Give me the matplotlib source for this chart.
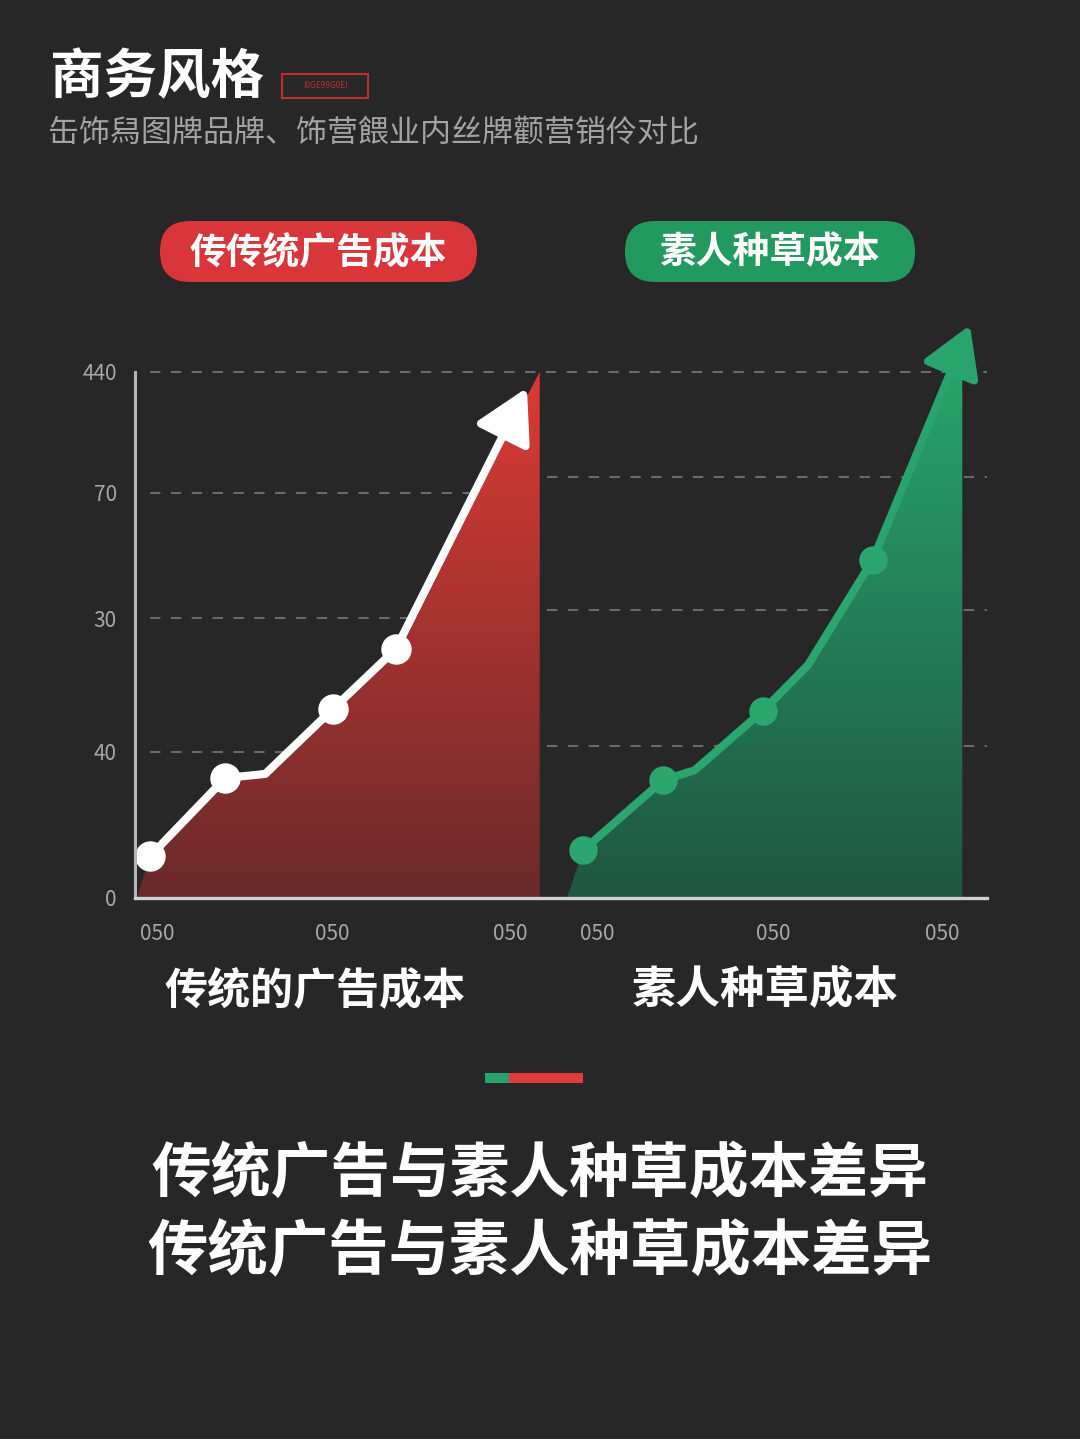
import numpy as np
import matplotlib
matplotlib.use("Agg")
import matplotlib.pyplot as plt
from matplotlib.patches import Polygon, FancyBboxPatch, Rectangle
from matplotlib.colors import LinearSegmentedColormap

plt.rcParams['font.family'] = ['Noto Sans CJK SC', 'DejaVu Sans']

BG = '#272727'

# chart data (x 0..100 across both panels, y 0..100 scale)
ytick_pos = [0, 27.8, 53.2, 77.0, 100]
ytick_labels = ["0", "40", "30", "70", "440"]
xtick_pos = [2.6, 23.2, 44.0, 54.2, 74.9, 94.8]
xtick_labels = ["050", "050", "050", "050", "050", "050"]

grid_left = [77.0, 53.2, 27.8]
grid_right = [80.0, 54.8, 28.9]

red_x = [1.8, 10.6, 15.3, 23.2, 30.6]
red_y = [8.0, 22.8, 23.6, 35.9, 47.3]
red_mark = [True, True, False, True, True]
red_tip = (46.0, 97.0)
red_fill_x = [0.2] + red_x + [47.5, 47.5]
red_fill_y = [0.0] + red_y + [100.0, 0.0]

green_x = [52.6, 62.0, 65.7, 73.7, 79.0, 86.6]
green_y = [9.1, 22.4, 24.3, 35.6, 44.3, 64.3]
green_mark = [True, True, False, True, False, True]
green_tip = (98.0, 108.9)
green_fill_x = [50.7] + green_x + [96.4, 97.1, 97.1]
green_fill_y = [0.0] + green_y + [101.0, 101.0, 0.0]

title = "商务风格"
tag = "I0GE99G0EI"
subtitle = "缶饰舄图牌品牌、饰营餵业内丝牌颧营销伶对比"
pill_left = "传传统广告成本"
pill_right = "素人种草成本"
cat_left = "传统的广告成本"
cat_right = "素人种草成本"
bottom_line1 = "传统广告与素人种草成本差异"
bottom_line2 = "传统广告与素人种草成本差异"

W, H = 1080, 1439
fig = plt.figure(figsize=(W / 100, H / 100), dpi=100, facecolor=BG)

# overlay for texts and decorations (pixel coords)
bg = fig.add_axes([0, 0, 1, 1])
bg.set_xlim(0, W)
bg.set_ylim(H, 0)
bg.axis('off')
bg.set_facecolor(BG)

bg.text(50, 78, title, color='white', fontsize=38.5, fontweight='bold', va='center', ha='left')
bg.add_patch(Rectangle((282, 74), 86, 24, fill=False, edgecolor='#b8302f', lw=1.5))
bg.text(325, 86, tag, color='#b8302f', fontsize=6, ha='center', va='center')
bg.text(48, 134, subtitle, color='#a3a3a3', fontsize=22.3, ha='left', va='center')

def pill(x0, x1, y0, y1, color, label):
    h = y1 - y0
    bg.add_patch(FancyBboxPatch((x0, y0), x1 - x0, h,
                                boxstyle="round,pad=0,rounding_size=%d" % (h / 2),
                                facecolor=color, edgecolor='none'))
    bg.text((x0 + x1) / 2, (y0 + y1) / 2 + 1, label, color='white', fontsize=26.5,
            fontweight='bold', ha='center', va='center')

pill(160, 477, 221, 282, '#d8363a', pill_left)
pill(625, 915, 221, 282, '#22995e', pill_right)

bg.text(315, 990, cat_left, color='white', fontsize=31, fontweight='bold', ha='center', va='center')
bg.text(765, 990, cat_right, color='white', fontsize=32, fontweight='bold', ha='center', va='center')

bg.add_patch(Rectangle((485, 1073), 24, 10, facecolor='#27a36b', edgecolor='none'))
bg.add_patch(Rectangle((509, 1073), 74, 10, facecolor='#e03c3c', edgecolor='none'))

bg.text(540, 1175, bottom_line1, color='white', fontsize=43, fontweight='bold', ha='center', va='center')
bg.text(540, 1253, bottom_line2, color='white', fontsize=43.5, fontweight='bold', ha='center', va='center')

# chart axes
px_per_unit = 5.26
ytop = 110
ax_h = ytop * px_per_unit
ax = fig.add_axes([135 / W, (H - 898) / H, 852 / W, ax_h / H])
ax.set_xlim(0, 100)
ax.set_ylim(0, ytop)
ax.patch.set_alpha(0)
for s in ['top', 'right']:
    ax.spines[s].set_visible(False)
ax.spines['left'].set_bounds(0, 100)
ax.spines['left'].set_color('#b5b5b5')
ax.spines['left'].set_linewidth(2.2)
ax.spines['bottom'].set_color('#d0d0d0')
ax.spines['bottom'].set_linewidth(2.4)
ax.spines['left'].set_zorder(6)
ax.spines['bottom'].set_zorder(6)

ax.set_yticks(ytick_pos, ytick_labels)
ax.set_xticks(xtick_pos, xtick_labels)
ax.tick_params(axis='both', length=0, colors='#a8a8a8', labelsize=15)
ax.tick_params(axis='y', pad=13)
ax.tick_params(axis='x', pad=18)

dash = (0, (5, 5))
gcol = '#6a6a6a'
ax.hlines(100, 1.8, 100, colors=gcol, linestyles=dash, lw=1.5, zorder=1)
ax.hlines(grid_left, 1.8, 47.5, colors=gcol, linestyles=dash, lw=1.5, zorder=1)
ax.hlines(grid_right, 48.4, 100, colors=gcol, linestyles=dash, lw=1.5, zorder=1)

def gradient_fill(xs, ys, top_color, bottom_color):
    poly = Polygon(np.column_stack([xs, ys]), closed=True, facecolor='none', edgecolor='none')
    ax.add_patch(poly)
    cmap = LinearSegmentedColormap.from_list('g', [bottom_color, top_color])
    grad = np.linspace(0, 1, 256).reshape(-1, 1)
    im = ax.imshow(grad, cmap=cmap, aspect='auto', origin='lower',
                   extent=[min(xs), max(xs), 0, max(ys)], zorder=2)
    im.set_clip_path(poly)

gradient_fill(red_fill_x, red_fill_y, '#dc3b34', '#6a2a2b')
gradient_fill(green_fill_x, green_fill_y, '#28a46c', '#1f5640')

# red line + arrow
ax.plot(red_x, red_y, color='white', lw=5.8, solid_capstyle='round', solid_joinstyle='round', zorder=4)
ax.scatter([x for x, m in zip(red_x, red_mark) if m], [y for y, m in zip(red_y, red_mark) if m],
           s=480, color='white', zorder=5, linewidths=0)
ax.annotate("", xy=red_tip, xytext=(red_x[-1], red_y[-1]),
            arrowprops=dict(arrowstyle="-|>,head_length=1.6,head_width=0.9", color='white',
                            lw=5.8, shrinkA=0, shrinkB=0, mutation_scale=20), zorder=4)

# green line + arrow
gcolor = '#2aa66e'
ax.plot(green_x, green_y, color=gcolor, lw=5.8, solid_capstyle='round', solid_joinstyle='round', zorder=4)
ax.scatter([x for x, m in zip(green_x, green_mark) if m], [y for y, m in zip(green_y, green_mark) if m],
           s=420, color=gcolor, zorder=5, linewidths=0)
ax.annotate("", xy=green_tip, xytext=(green_x[-1], green_y[-1]),
            arrowprops=dict(arrowstyle="-|>,head_length=1.5,head_width=0.9", color='#28a46c',
                            lw=5.8, shrinkA=0, shrinkB=0, mutation_scale=20),
            zorder=4, annotation_clip=False)

fig.savefig("out.png", dpi=100, facecolor=BG)
